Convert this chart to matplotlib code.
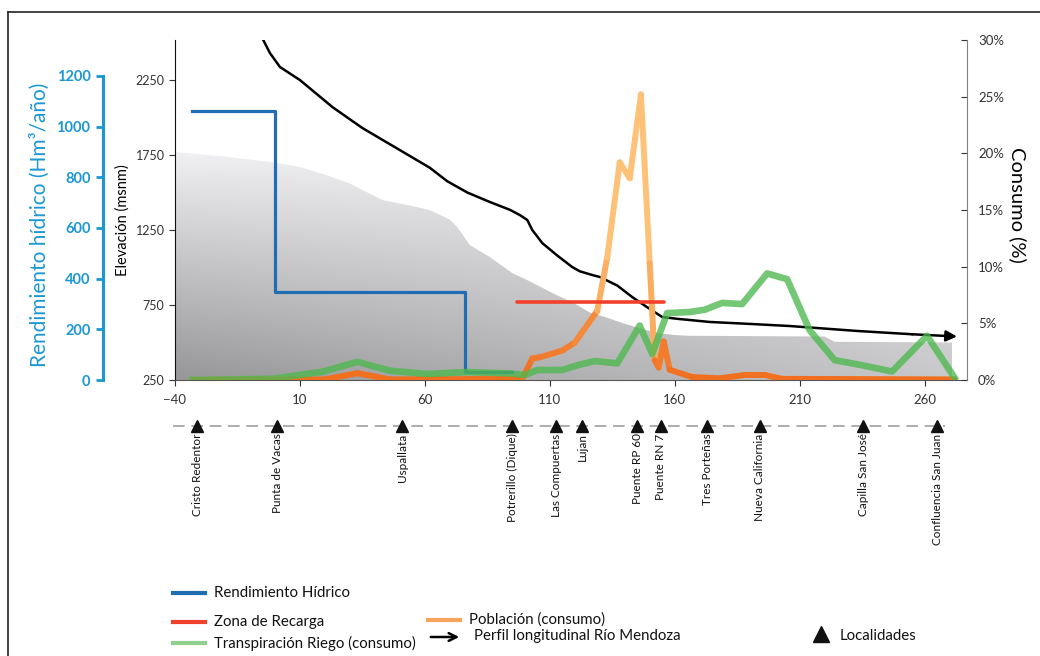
import numpy as np
import matplotlib
matplotlib.use('Agg')
import matplotlib.pyplot as plt
from matplotlib.collections import LineCollection
from matplotlib.lines import Line2D
from matplotlib.patches import FancyArrowPatch
from matplotlib.colors import to_rgb

plt.rcParams['font.family'] = ['Lato', 'DejaVu Sans']

# terrain profile (grey area), msnm
area_x = [-40, -20, 0, 10, 20, 30, 43, 55, 62, 70, 73, 78, 86, 95, 103, 111, 120, 126, 133, 139, 146, 153, 160, 165, 220, 224, 271]
area_y = [1770, 1740, 1700, 1670, 1620, 1560, 1450, 1410, 1383, 1320, 1270, 1150, 1070, 963, 900, 830, 760, 700, 665, 630, 595, 563, 550, 545, 540, 505, 500]

# perfil longitudinal rio Mendoza, msnm
perfil_x = [-6, -2, 2, 10, 23, 35, 50, 62, 69, 77, 86, 94, 98, 101, 103, 107, 113, 119, 122, 127, 130, 137, 143, 149, 155, 161, 166, 174, 190, 206, 233, 255, 273]
perfil_y = [2560, 2430, 2337, 2250, 2070, 1930, 1783, 1665, 1575, 1500, 1437, 1385, 1350, 1317, 1250, 1163, 1080, 1003, 975, 950, 937, 880, 803, 735, 670, 658, 650, 637, 624, 610, 577, 555, 540]

# rendimiento hidrico, Hm3/año (steps)
rend_x = [-33, 0, 76, 95]
rend_y = [1060, 348, 33, 33]

# zona de recarga, %
recarga_x = [97, 155.6]
recarga_y = [6.85, 6.85]

# transpiracion riego (consumo), %
riego_x = [-33, -1, 19, 33, 46, 61, 77, 94, 100, 105, 115, 121, 128, 137, 146, 151, 157, 166, 172, 179, 187, 197, 205, 214, 224, 235, 247, 261, 272]
riego_y = [0, 0.1, 0.73, 1.6, 0.82, 0.53, 0.7, 0.58, 0.44, 0.88, 0.88, 1.3, 1.67, 1.47, 4.8, 2.3, 5.9, 6.0, 6.2, 6.8, 6.7, 9.4, 8.9, 4.4, 1.75, 1.3, 0.75, 3.9, 0.2]

# poblacion (consumo), %
pob_x = [-33, 20, 33, 46, 99, 103, 106, 115, 120, 129, 133, 138, 142, 146.5, 150, 152, 153.6, 155.6, 158, 167, 178, 188, 196, 203, 272]
pob_y = [0, 0.05, 0.6, 0.05, 0.1, 1.9, 2.0, 2.6, 3.3, 6.1, 10.8, 19.2, 17.8, 25.2, 10.3, 1.75, 1.1, 3.4, 0.9, 0.26, 0.15, 0.44, 0.44, 0.1, 0.05]

localidades = ['Cristo Redentor', 'Punta de Vacas', 'Uspallata', 'Potrerillo (Dique)', 'Las Compuertas', 'Lujan',
               'Puente RP 60', 'Puente RN 7', 'Tres Porteñas', 'Nueva California', 'Capilla San José', 'Confluencia San Juan']
loc_x = [-31, 1, 51, 95, 112.5, 123, 145, 154.5, 173, 194, 235.5, 265]

x_ticks = [-40, 10, 60, 110, 160, 210, 260]

W, H = 1040, 656
fig = plt.figure(figsize=(W / 100, H / 100), dpi=100)
fig.patch.set_facecolor('white')
ax = fig.add_axes([175 / W, 1 - 380 / H, (967 - 175) / W, 340 / H])

# --- elevation axis (main) ---
ax.set_xlim(-40, 277)
ax.set_ylim(250, 2517)
poly = ax.fill_between(area_x, 250, area_y, facecolor='none', edgecolor='none')
gx = np.linspace(0, 1, 200)
gy = np.linspace(0, 1, 200)
GX, GY = np.meshgrid(gx, gy)
shade = 0.95 - 0.36 * (1 - GY) * (1 - 0.55 * GX)
img = ax.imshow(np.dstack([shade, shade, shade * 1.01]).clip(0, 1), extent=[-40, 277, 250, 1800],
                origin='lower', aspect='auto', zorder=1)
img.set_clip_path(poly.get_paths()[0], transform=ax.transData)

ax.plot(perfil_x[:-1], perfil_y[:-1], color='black', lw=1.8, zorder=3, solid_joinstyle='round')
ax.annotate('', xy=(perfil_x[-1], perfil_y[-1]), xytext=(perfil_x[-2], perfil_y[-2]),
            arrowprops=dict(arrowstyle='-|>', color='black', lw=1.8, mutation_scale=16, shrinkA=0, shrinkB=0),
            zorder=3)

ax.set_yticks([250, 750, 1250, 1750, 2250])
ax.set_xticks(x_ticks)
ax.tick_params(axis='y', labelsize=9, colors='#333333', length=4, width=0.8)
ax.tick_params(axis='x', labelsize=9.5, colors='#333333', length=4, width=0.8, pad=6)
for s in ['top', 'right']:
    ax.spines[s].set_visible(False)
ax.spines['left'].set_color('#111111')
ax.spines['bottom'].set_color('#555555')
ax.set_ylabel('Elevación (msnm)', fontsize=10.5, color='black')
ax.yaxis.set_label_coords(-0.057, 0.47)

# --- rendimiento hidrico axis (offset left) ---
axb = ax.twinx()
axb.set_ylim(0, 1342)
axb.yaxis.tick_left()
axb.yaxis.set_label_position('left')
for s in ['top', 'right', 'bottom']:
    axb.spines[s].set_visible(False)
axb.spines['left'].set_position(('axes', (103 - 175) / 792))
axb.spines['left'].set_color('#1b98d3')
axb.spines['left'].set_linewidth(2.2)
axb.spines['left'].set_bounds(0, 1200)
axb.set_yticks(range(0, 1201, 200))
axb.tick_params(axis='y', colors='#1b98d3', labelsize=10.5, length=5, width=2, pad=4)
for t in axb.get_yticklabels():
    t.set_fontweight('bold')
axb.set_ylabel('Rendimiento hídrico (Hm³/año)', fontsize=15, color='#1b98d3')
axb.yaxis.set_label_coords(-0.158, 0.455)
axb.plot(rend_x, rend_y, drawstyle='steps-post', color='#1f6db3', lw=2.3, zorder=4)

# --- consumo axis (right) ---
axc = ax.twinx()
axc.set_ylim(0, 30)
for s in ['top', 'left', 'bottom']:
    axc.spines[s].set_visible(False)
axc.spines['right'].set_color('#808080')
axc.set_yticks(range(0, 31, 5))
axc.set_yticklabels([f'{v}%' for v in range(0, 31, 5)])
axc.tick_params(axis='y', colors='#333333', labelsize=9.5, length=4, direction='in', pad=8)
axc.set_ylabel('Consumo (%)', fontsize=14.5, color='black', rotation=270)
axc.yaxis.set_label_coords(1.075, 0.515)

# poblacion line, colored from dark orange (low) to light orange (high)
dark = np.array(to_rgb('#f06e1e'))
light = np.array(to_rgb('#fdc277'))
segs, cols = [], []
for i in range(len(pob_x) - 1):
    segs.append([(pob_x[i], pob_y[i]), (pob_x[i + 1], pob_y[i + 1])])
    hi = max(pob_y[i], pob_y[i + 1])
    t = min(1.0, hi / 14.0) if hi > 8 else min(1.0, (pob_y[i] + pob_y[i + 1]) / 2 / 14.0)
    cols.append(tuple(dark + (light - dark) * t))
lc = LineCollection(segs, colors=cols, linewidths=4.3, capstyle='round', joinstyle='round', zorder=3)
axc.add_collection(lc)

axc.plot(riego_x, riego_y, color='#4cb84e', lw=4.8, alpha=0.78, solid_joinstyle='round', zorder=4)
axc.plot(recarga_x, recarga_y, color='#f2412a', lw=2.6, solid_capstyle='round', zorder=5)

# --- localidades below the axis ---
trans = ax.get_xaxis_transform()
ax.plot([-41, 268], [-0.135, -0.135], transform=trans, clip_on=False, color='#a0a0a0', lw=1.2,
        dashes=(7, 4), zorder=1)
ax.plot(loc_x, [-0.135] * len(loc_x), '^', transform=trans, clip_on=False, color='#111111',
        markersize=9, zorder=6)
for name, lx in zip(localidades, loc_x):
    ax.text(lx, -0.157, name, transform=trans, rotation=90, ha='center', va='top', fontsize=8.5,
            color='#111111')

# --- legend (drawn by hand) ---
def fx(px):
    return px / W

def fy(py):
    return 1 - py / H

legend_lines = [
    (173, 593, '#1f6db3', 'Rendimiento Hídrico'),
    (173, 622, '#f2412a', 'Zona de Recarga'),
    (173, 643, '#8fd08f', 'Transpiración Riego (consumo)'),
    (428, 620, '#f7a55a', 'Población (consumo)'),
]
for x0, py, c, lab in legend_lines:
    fig.add_artist(Line2D([fx(x0), fx(x0 + 32)], [fy(py), fy(py)], color=c, lw=3))
    fig.text(fx(x0 + 41), fy(py), lab, fontsize=10.8, va='center', ha='left', color='#111111')
fig.patches.append(FancyArrowPatch((fx(428), fy(637)), (fx(462), fy(637)),
                   transform=fig.transFigure, arrowstyle='->', mutation_scale=14, lw=1.8, color='black'))
fig.text(fx(474), fy(636), 'Perfil longitudinal Río Mendoza', fontsize=10.8, va='center', ha='left', color='#111111')
fig.add_artist(Line2D([fx(821)], [fy(634)], marker='^', color='#111111', markersize=11, lw=0))
fig.text(fx(840), fy(636), 'Localidades', fontsize=10.8, va='center', ha='left', color='#111111')

# frame lines
fig.add_artist(Line2D([fx(8), fx(8)], [0, fy(12)], color='#222222', lw=1.2))
fig.add_artist(Line2D([fx(8), 1], [fy(12), fy(12)], color='#222222', lw=1.2))

fig.savefig('out.png', dpi=100)
